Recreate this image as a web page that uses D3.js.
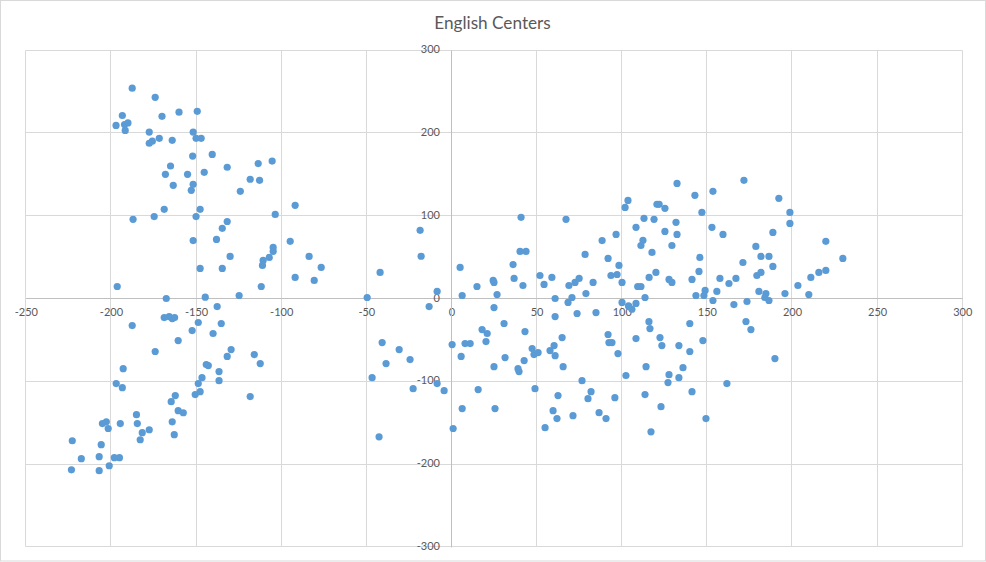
<!DOCTYPE html>
<html>
<head>
<meta charset="utf-8">
<title>English Centers</title>
<script src="https://cdn.jsdelivr.net/npm/d3@7"></script>
<style>
  html, body { margin: 0; padding: 0; background: #fff; }
  svg { display: block; }
  text { font-family: Lato, "Open Sans", sans-serif; fill: #595959; }
</style>
</head>
<body>
<div id="chart"></div>
<script>
const chartTitle = 'English Centers';
const xTicks = [-250, -200, -150, -100, -50, 0, 50, 100, 150, 200, 250, 300];
const yTicks = [-300, -200, -100, 0, 100, 200, 300];

// same order in both arrays
const xValues = [
  -187.5, -174, -160, -149.3, -193.3, -170, -190, -197, -192, -191.6, -177.5, -151.7, -171.6, -150, -147, -164,
  -175.7, -177.5, -152, -140.5, -165, -131.7, -113.5, -105.3, -145.2, -168, -155, -118.2, -112.7, -151.7, -163.4, -152.8,
  -124, -91.8, -147.6, -168.7, -174.6, -103.5, -187, -150, -131.7, -134.6, -138, -151.7, -94.7, -104.7, -104.7, -107,
  -110.6, -111, -130, -83.6, -76.5, -147.6, -134.6, -91.8, -80.6, -196.3, -111.7, -124.7, -144.6, -167.5,
  -187.5, -168.7, -165.8, -164, -162.6, -137.6, -135.2, -148.7, -152.3, -140, -160.5, -174, -129.4, -131.7, -115.8, -112.3,
  -144, -142.8, -192.8, -136.5, -146.5, -136.5, -148.7, -196.9, -193.3, -147.6, -150.5, -162.2, -118.2, -164.6, -160.5, -157.5,
  -185, -164, -184.5, -194.5, -202.7, -205, -201.6, -177.5, -181.6, -162.8, -182.8, -222.7, -205.7, -206.9, -198, -195,
  -217.4, -201, -223.2, -206.9,
  -49.5, -41.9, -18.4, -17.8, -8.4, -13.1, -40.7, -30.7, -38.4, -24.3, -46.6, -22.5, -8.4, -4.3, -42.5,
  5.1, 6.3, 15, 24.5, 25, 26.8, 25, 36.2, 36.8, 40.9, 40.3, 43.8, 42, 52, 54.4, 59,
  60.9, 67.3, 78.5, 69, 72.6, 75, 83.2, 70.8, 68.5, 79, 88.5, 96.7, 92, 98.4, 93.7, 97.3,
  100.2, 100.2, 102, 103.7, 104, 30.9, 43.2, 18, 21, 20.3, 0.4, 8, 11, 5.7, 6.3, 1,
  15.7, 25, 31.5, 25.6, 39.1, 39.7, 42.7, 47.4, 48.5, 50.9, 49.1, 55, 59.7, 62, 62.6, 71.4,
  57.9, 60.3, 60.9, 60.9, 65, 65.6, 73.8, 84.9, 76.7, 82, 80.2, 86.7, 90.8, 96, 92, 92.5,
  94.3, 97.8, 102.5,
  132.5, 143, 153.6, 171.8, 192.3, 120.7, 122, 125.4, 147.1, 198.8, 198.8, 113.1, 119, 131.9, 108.4, 125.4,
  132.5, 153, 159.5, 188.8, 112.5, 111.3, 117.8, 129.5, 219.9, 178.8, 181.8, 186.5, 145.9, 171.2, 188.8, 229.9,
  145.4, 120.1, 116.1, 127.8, 129.5, 141.3, 157.7, 167.1, 163, 181.8, 179.4, 219.9, 215.8, 211.1, 203.5, 195.9,
  209.9, 180.6, 184.7, 184.1, 186.5, 173.6, 165.9, 153.6, 149, 148.3, 143.6, 155.9, 109.4, 111.3, 113.7, 104.3,
  106, 108.4, 116, 116.6, 140, 108.4, 122.5, 123.6, 133.6, 147.7, 140, 173, 175.9, 190, 114.3, 127.8,
  136, 133.6, 127.2, 161.8, 141.3, 113.7, 123.1, 149.5, 117.2
];
const yValues = [
  254, 243, 225, 226, 221, 220, 212, 209, 210, 203, 201, 201, 193.5, 193.5, 193.5, 191,
  190, 187.5, 172, 174, 160, 158.5, 163, 166, 152.4, 150, 150, 144, 142.7, 138, 136.7, 130.6,
  129.4, 112.5, 107.7, 107.7, 99, 101.6, 95.6, 99, 93, 84.7, 71.4, 70, 69, 61.7, 57, 49.6,
  46, 40, 50.8, 50.8, 37.5, 36.3, 36.3, 25.4, 21.8, 14.5, 14.5, 3.6, 1.6, 0,
  -32.7, -23, -21.8, -24.2, -23, -9.7, -30.2, -29, -38.7, -42.3, -50.8, -64, -61.7, -70, -67.7, -78.6,
  -79.8, -81, -84.7, -88.3, -95.6, -99.2, -102.8, -102.8, -107.7, -112.5, -116, -117.3, -118.5, -124.6, -135.5, -138,
  -140.3, -149, -151, -151, -149, -151, -157, -158.5, -162, -164.5, -170.6, -171.8, -176.6, -191, -192.3, -192.3,
  -193.5, -202, -206.9, -208,
  1.2, 31.5, 82.3, 51, 8.5, -9.7, -53.2, -61.7, -78.6, -73.8, -95.6, -108.9, -102.8, -111.3, -167,
  37.5, 3.6, 14.5, 21.8, 19.4, 4.8, -10.9, 41, 24.2, 98, 56.9, 56.9, 15.7, 27.8, 17, 25.4,
  0, 95.6, 53.2, 15.7, 19.4, 24.2, 19.4, 1.2, -4.8, 6, 70, 77.4, 48.4, 40, 27.8, 29,
  19.4, -4.8, 110, 118.5, -9, -30.2, -40, -37.5, -42.3, -52, -55.6, -54.4, -54.4, -70, -133, -157,
  -110, -82.3, -71.4, -133, -84.7, -88.3, -75, -60.5, -67.7, -65.3, -108.9, -156, -135.5, -145, -117.3, -141.5,
  -62.9, -56.9, -69, -21.8, -47.2, -82.3, -18.1, -17, -99.2, -112.5, -121, -137.9, -145, -119.8, -43.5, -53.2,
  -53.2, -66.5, -93,
  139, 124.6, 129.4, 142.7, 121, 113.7, 113.7, 108.9, 104, 104, 90.7, 96.8, 95.6, 92, 85.9, 81,
  77.4, 85.9, 77.4, 79.8, 70.2, 64, 55.6, 64, 69, 62.9, 50.8, 50.8, 49.6, 43.5, 38.7, 48.4,
  32.7, 31.5, 25.4, 23, 19.4, 23, 24.2, 24.2, 18.1, 31.5, 27.8, 33.9, 31.5, 25.4, 15.7, 6,
  4.8, 8.5, 6, 1.2, -2.4, -3.6, -7.3, -2.4, 9.7, 3.6, 3.6, 8.5, 14.5, 14.5, 1.2, -9.7,
  -13, -6, -28, -36.3, -30.2, -48.4, -47.2, -56.9, -56.9, -50.8, -64, -27.8, -37.5, -72.6, -82.3, -92,
  -83.5, -95.6, -101.6, -102.8, -112.5, -116, -130.6, -145, -161
];

const width = 986, height = 562;
const plot = { left: 25.8, right: 962.2, top: 50.1, bottom: 546.9 };

const svg = d3.select('#chart').append('svg')
  .attr('width', width)
  .attr('height', height);

// outer chart frame
svg.append('rect')
  .attr('x', 0.5).attr('y', 0.5)
  .attr('width', width - 1).attr('height', height - 1.5)
  .attr('fill', '#fff')
  .attr('stroke', '#d9d9d9');

svg.append('text')
  .attr('x', 492.5)
  .attr('y', 29)
  .attr('text-anchor', 'middle')
  .style('font-size', '17.2px')
  .text(chartTitle);

const x = d3.scaleLinear().domain([-250, 300]).range([plot.left, plot.right]);
const y = d3.scaleLinear().domain([-300, 300]).range([plot.bottom, plot.top]);

// keep lines on whole pixels so they stay sharp
const snap = v => Math.floor(v) + 0.5;

// gridlines
svg.append('g')
  .selectAll('line')
  .data(xTicks)
  .join('line')
  .attr('x1', d => snap(x(d))).attr('x2', d => snap(x(d)))
  .attr('y1', snap(plot.top)).attr('y2', snap(plot.bottom))
  .attr('stroke', '#d9d9d9');

svg.append('g')
  .selectAll('line')
  .data(yTicks)
  .join('line')
  .attr('x1', snap(plot.left)).attr('x2', snap(plot.right))
  .attr('y1', d => snap(y(d))).attr('y2', d => snap(y(d)))
  .attr('stroke', '#d9d9d9');

// axes cross at zero, labels sit next to the lines
const axisX = svg.append('g')
  .attr('transform', `translate(0,${snap(y(0)) - 0.5})`)
  .call(d3.axisBottom(x).tickValues(xTicks).tickSize(0).tickPadding(10.5).tickFormat(String));
axisX.select('.domain').attr('stroke', '#bfbfbf');

const axisY = svg.append('g')
  .attr('transform', `translate(${snap(x(0)) - 0.5},0)`)
  .call(d3.axisLeft(y).tickValues(yTicks).tickSize(0).tickPadding(11).tickFormat(String));
axisY.select('.domain').attr('stroke', '#bfbfbf');
axisY.selectAll('text').attr('dy', '0.23em');

[axisX, axisY].forEach(a => {
  a.selectAll('text')
    .style('font-size', '11px')
    .style('font-family', 'Lato, "Open Sans", sans-serif')
    .style('fill', '#595959');
});

svg.append('g')
  .selectAll('circle')
  .data(xValues.map((d, i) => [d, yValues[i]]))
  .join('circle')
  .attr('cx', d => x(d[0]))
  .attr('cy', d => y(d[1]))
  .attr('r', 3.6)
  .attr('fill', '#5b9bd5');
</script>
</body>
</html>
